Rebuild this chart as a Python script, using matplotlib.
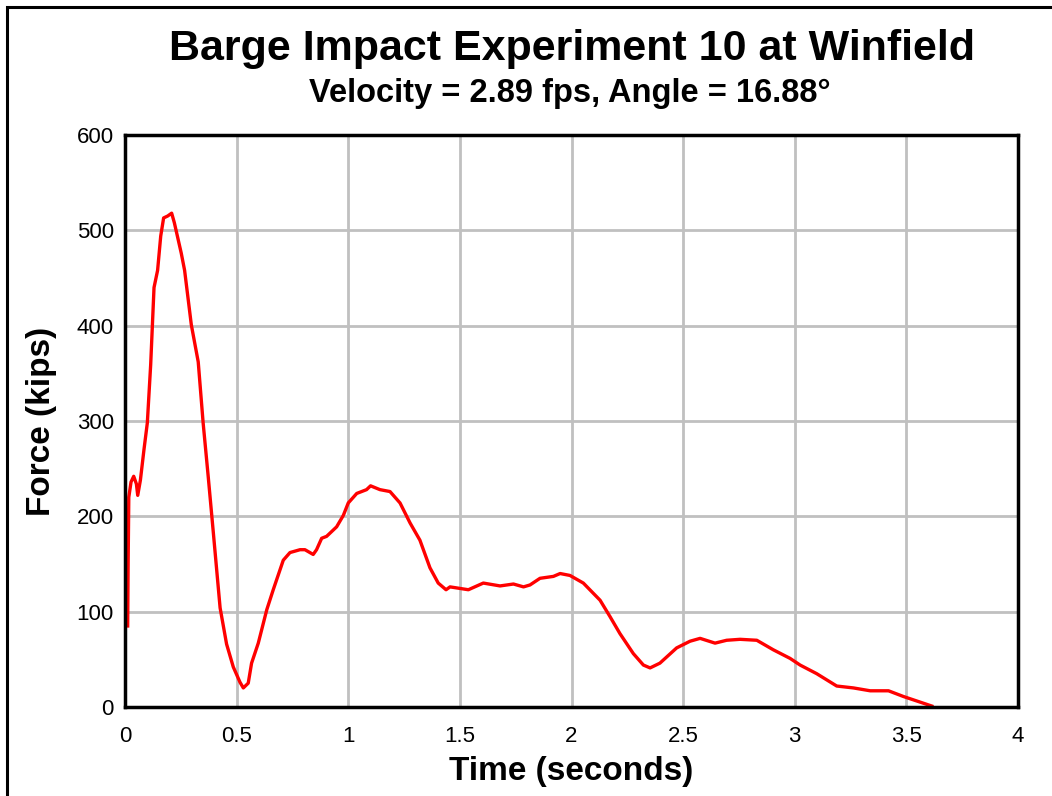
import matplotlib
matplotlib.use('Agg')
import matplotlib.pyplot as plt
from matplotlib.patches import Rectangle

# Time history
time_s = [0.012, 0.014, 0.017, 0.027, 0.039, 0.051, 0.057, 0.069, 0.085, 0.100,
          0.115, 0.130, 0.146, 0.160, 0.173, 0.191, 0.209, 0.221, 0.252, 0.267,
          0.297, 0.328, 0.350, 0.373, 0.396, 0.426, 0.455, 0.485, 0.515, 0.530,
          0.552, 0.567, 0.597, 0.635, 0.664, 0.709, 0.739, 0.784, 0.806, 0.843,
          0.858, 0.881, 0.903, 0.948, 0.978, 1.000, 1.038, 1.082, 1.100, 1.142,
          1.187, 1.232, 1.277, 1.321, 1.366, 1.403, 1.438, 1.456, 1.538, 1.605,
          1.680, 1.740, 1.785, 1.814, 1.859, 1.919, 1.949, 1.993, 2.053, 2.128,
          2.172, 2.217, 2.277, 2.322, 2.352, 2.396, 2.471, 2.531, 2.576, 2.643,
          2.695, 2.755, 2.830, 2.904, 2.979, 3.024, 3.098, 3.188, 3.263, 3.338,
          3.420, 3.487, 3.614]
force_kips = [85, 150, 220, 236, 242, 234, 222, 238, 270, 298,
              359, 440, 458, 494, 513, 515, 518, 508, 476, 458,
              401, 362, 298, 241, 182, 104, 66, 42, 26, 20,
              25, 46, 67, 102, 123, 154, 162, 165, 165, 160,
              165, 177, 179, 189, 201, 214, 224, 228, 232, 228,
              226, 214, 193, 175, 146, 130, 123, 126, 123, 130,
              127, 129, 126, 128, 135, 137, 140, 138, 130, 112,
              95, 77, 56, 44, 41, 46, 62, 69, 72, 67,
              70, 71, 70, 60, 51, 44, 35, 22, 20, 17,
              17, 11, 1]

x_ticks = [0, 0.5, 1, 1.5, 2, 2.5, 3, 3.5, 4]
x_labels = ['0', '0.5', '1', '1.5', '2', '2.5', '3', '3.5', '4']
y_ticks = [0, 100, 200, 300, 400, 500, 600]

plt.rcParams['font.family'] = ['Liberation Sans', 'DejaVu Sans']

fig = plt.figure(figsize=(10.52, 7.96), dpi=100)
ax = fig.add_axes([125 / 1052, 89 / 796, 893 / 1052, 572 / 796])

# outer frame of the chart area (runs off right/bottom edges)
fig.patches.append(Rectangle((7 / 1052, -0.1), 1.2, 1.1 - 7 / 796,
                             transform=fig.transFigure, fill=False,
                             edgecolor='black', linewidth=2.2))

ax.plot(time_s, force_kips, color='#ff0000', linewidth=2.4)

ax.set_xlim(0, 4)
ax.set_ylim(0, 600)
ax.set_xticks(x_ticks)
ax.set_xticklabels(x_labels)
ax.set_yticks(y_ticks)
ax.tick_params(length=0, labelsize=16)
ax.tick_params(axis='x', pad=14)
ax.tick_params(axis='y', pad=8)
ax.grid(True, color='#c0c0c0', linewidth=2)
ax.set_axisbelow(True)
for s in ax.spines.values():
    s.set_linewidth(2.5)
    s.set_color('black')

ax.set_xlabel('Time (seconds)', fontsize=24, fontweight='bold', labelpad=6)
ax.set_ylabel('Force (kips)', fontsize=24, fontweight='bold', labelpad=14)

fig.text(0.5435, 0.939, 'Barge Impact Experiment 10 at Winfield',
         ha='center', va='center', fontsize=31, fontweight='bold')
fig.text(0.5415, 0.883, 'Velocity = 2.89 fps, Angle = 16.88°',
         ha='center', va='center', fontsize=23.5, fontweight='bold')

fig.savefig('out.png', dpi=100)
